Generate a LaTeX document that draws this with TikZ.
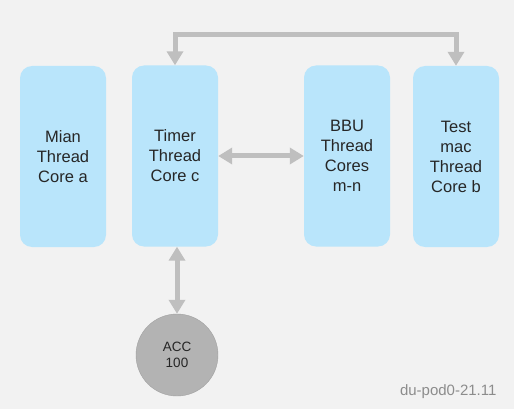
\documentclass[tikz,border=0pt]{standalone}
\usepackage{fontspec}
\setmainfont{Liberation Sans}
\usetikzlibrary{arrows.meta,calc}
\definecolor{bgc}{HTML}{F2F2F2}
\definecolor{boxc}{HTML}{B9E5FB}
\definecolor{arrc}{HTML}{BFBFBF}
\definecolor{accc}{HTML}{B3B3B3}
\definecolor{labc}{HTML}{8C8C8C}
\tikzset{
  corebox/.style={fill=boxc, draw=none, rounded corners=12pt, minimum width=86pt, minimum height=181pt, align=center, inner sep=0pt, font=\fontsize{16.5}{20}\selectfont, text=black!85},
  conn/.style={draw=arrc, line width=5pt, {Triangle[width=16pt,length=14pt]}-{Triangle[width=16pt,length=14pt]}},
  accnode/.style={circle, fill=accc, draw=accc!90!black, line width=0.4pt, minimum size=82pt, inner sep=0pt, align=center, font=\fontsize{13.5}{16.5}\selectfont, text=black!85}
}
\begin{document}
\begin{tikzpicture}[x=1pt,y=-1pt]
\fill[bgc] (0,0) rectangle (514,409);
\useasboundingbox (0,0) rectangle (514,409);
\node[corebox] (mian) at (63,156.5) {Mian\\Thread\\Core a};
\node[corebox] (timer) at (175,156) {Timer\\Thread\\Core c};
\node[corebox] (bbu) at (347,156) {BBU\\Thread\\Cores\\m-n};
\node[corebox] (test) at (456,156.5) {Test\\mac\\Thread\\Core b};
\node[accnode] (acc) at (177,355) {ACC\\100};
\node[text=labc, font=\fontsize{15}{18}\selectfont, anchor=base east] (tag) at (500,395) {du-pod0-21.11};
\coordinate (tl) at (175,35);
\coordinate (tr) at (456,35);
\draw[conn] (timer.north) -- (tl) -- (tr) -- (test.north);
\draw[conn] (timer.east) -- (bbu.west);
\draw[conn] (acc.north |- timer.south) -- (acc.north);
\end{tikzpicture}
\end{document}
